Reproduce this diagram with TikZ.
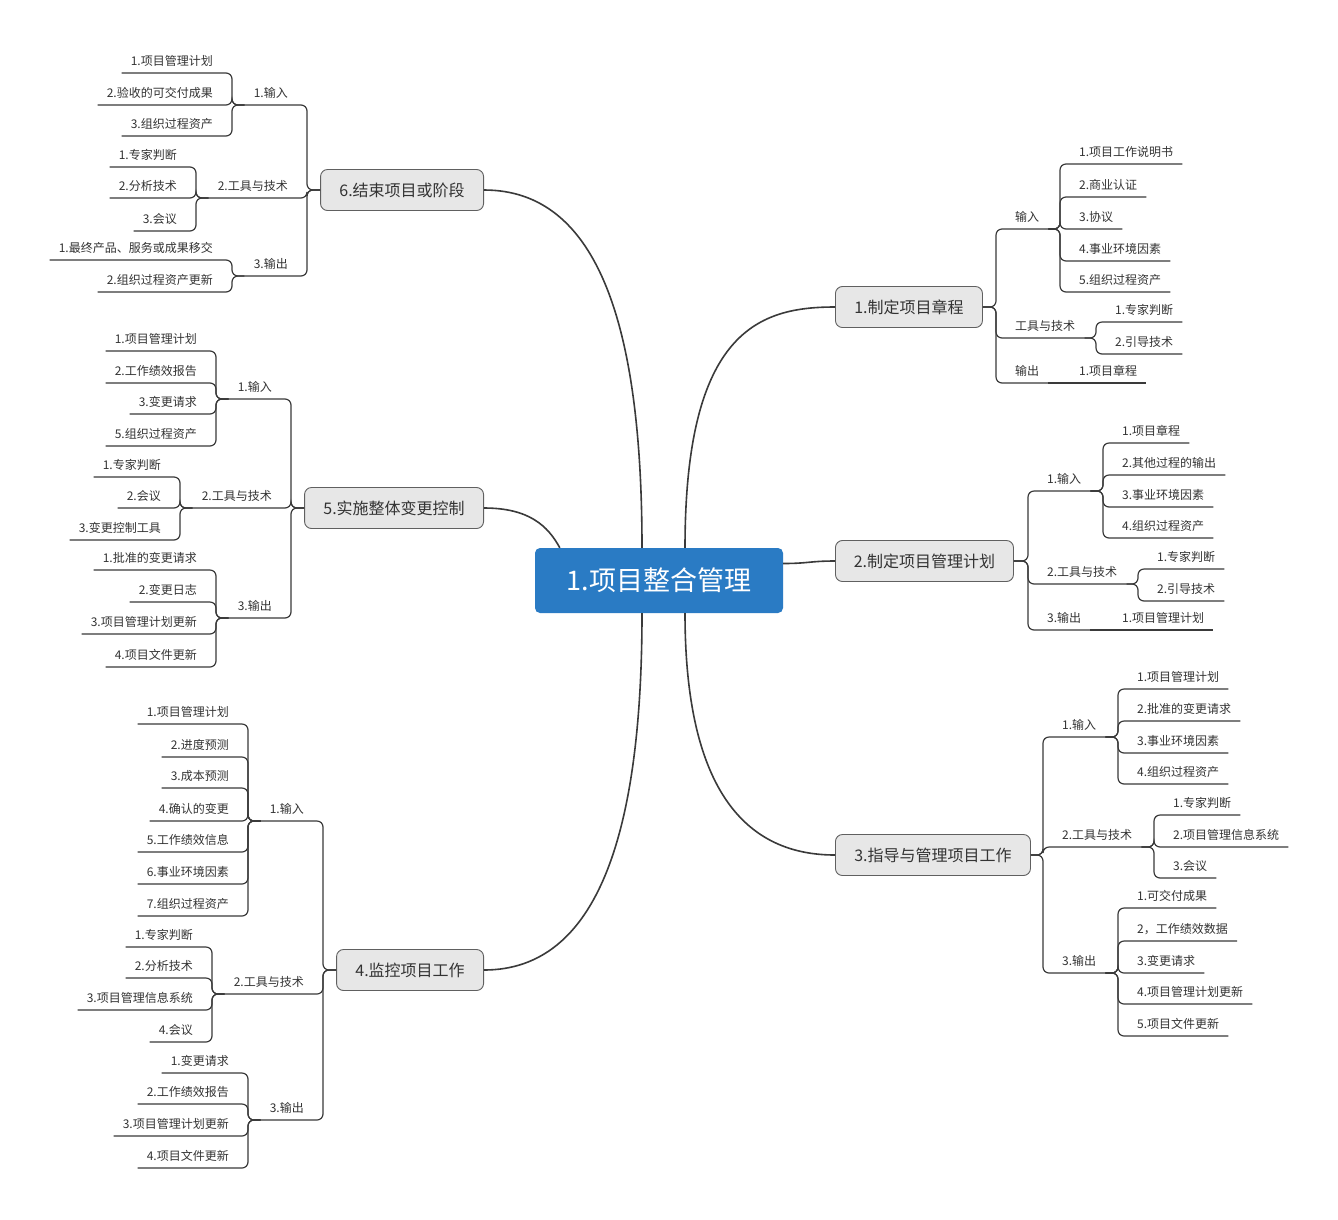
\documentclass[tikz,border=0pt]{standalone}
\usepackage{fontspec}
\newfontfamily\cjk{Noto Sans CJK SC}
\usepackage{tikz}
\usetikzlibrary{positioning}
\usepackage{xcolor}
\definecolor{linegray}{RGB}{58,58,58}
\definecolor{textgray}{RGB}{51,51,51}
\definecolor{boxgray}{RGB}{231,231,231}
\definecolor{boxline}{RGB}{96,96,96}
\definecolor{centerblue}{RGB}{42,123,196}

\begin{document}
\begin{tikzpicture}[x=1pt, y=-1pt,
  topic/.style={draw=boxline, fill=boxgray, rounded corners=7pt, line width=0.9pt,
    font=\cjk\fontsize{16}{18}\selectfont, text=textgray,
    minimum height=41pt, inner xsep=4pt},
  leaf/.style={inner xsep=9pt, inner ysep=6.5pt,
    font=\cjk\fontsize{12}{14}\selectfont, text=textgray},
  leafr/.style={leaf, anchor=south west, xshift=10pt},
  leafl/.style={leaf, anchor=south east, xshift=-10pt},
  link/.style={draw=linegray, line width=1.2pt, rounded corners=6pt},
  curve/.style={draw=linegray, line width=1.6pt}]

  \fill[white] (0,0) rectangle (1338,1219);
  \useasboundingbox (0,0) rectangle (1338,1219);

  % central topic
  \node[fill=centerblue, rounded corners=5pt, minimum width=248pt, minimum height=65pt,
    text=white, font=\cjk\fontsize{27}{30}\selectfont] (c) at (659,580.5) {1.项目整合管理};

  % main topics
  \node[topic, anchor=west, minimum width=147pt] (b1) at (835,307) {1.制定项目章程};
  \node[topic, anchor=west, minimum width=178pt] (b2) at (835,561) {2.制定项目管理计划};
  \node[topic, anchor=west, minimum width=195pt] (b3) at (835,855) {3.指导与管理项目工作};
  \node[topic, anchor=east, minimum width=147pt] (b4) at (484,970) {4.监控项目工作};
  \node[topic, anchor=east, minimum width=179pt] (b5) at (484,508) {5.实施整体变更控制};
  \node[topic, anchor=east, minimum width=163pt] (b6) at (484,190) {6.结束项目或阶段};

  \draw[curve] ([xshift=26pt]c.north) .. controls +(0,-218) and +(-75,0) .. (b1.west);
  \draw[curve] ([yshift=17pt]c.east) .. controls +(25,0) and +(-25,0) .. (b2.west);
  \draw[curve] ([xshift=26pt]c.south) .. controls +(0,190) and +(-80,0) .. (b3.west);
  \draw[curve] ([xshift=-17pt]c.south) .. controls +(0,217) and +(115,0) .. (b4.east);
  \draw[curve] ([xshift=25pt]c.north west) .. controls +(-12,-22) and +(45,0) .. (b5.east);
  \draw[curve] ([xshift=-17pt]c.north) .. controls +(0,-220) and +(115,0) .. (b6.east);

  % 1.制定项目章程
  \foreach \y/\lbl/\nm in {229/输入/in, 338/工具与技术/tt, 383/输出/out} {
    \node[leafr] (b1\nm) at (996,\y) {\lbl};
    \draw[link] (b1.east) -| ([xshift=-10pt]b1\nm.south west) -- (b1\nm.south east);
  }
  \foreach \y/\lbl [count=\i] in {164/1.项目工作说明书, 197/2.商业认证, 229/3.协议,
                                   261/4.事业环境因素, 292/5.组织过程资产} {
    \node[leafr] (b1in\i) at (1060,\y) {\lbl};
    \draw[link] (b1in.south east) -| ([xshift=-10pt]b1in\i.south west) -- (b1in\i.south east);
  }
  \foreach \y/\lbl [count=\i] in {322/1.专家判断, 354/2.引导技术} {
    \node[leafr] (b1tt\i) at (1096,\y) {\lbl};
    \draw[link] (b1tt.south east) -| ([xshift=-10pt]b1tt\i.south west) -- (b1tt\i.south east);
  }
  \node[leafr] (b1out1) at (1060,383) {1.项目章程};
  \draw[link] (b1out.south east) -- (b1out1.south east);

  % 2.制定项目管理计划
  \foreach \y/\lbl/\nm in {491/1.输入/in, 584/2.工具与技术/tt, 630/3.输出/out} {
    \node[leafr] (b2\nm) at (1028,\y) {\lbl};
    \draw[link] (b2.east) -| ([xshift=-10pt]b2\nm.south west) -- (b2\nm.south east);
  }
  \foreach \y/\lbl [count=\i] in {443/1.项目章程, 475/2.其他过程的输出,
                                   507/3.事业环境因素, 538/4.组织过程资产} {
    \node[leafr] (b2in\i) at (1103,\y) {\lbl};
    \draw[link] (b2in.south east) -| ([xshift=-10pt]b2in\i.south west) -- (b2in\i.south east);
  }
  \foreach \y/\lbl [count=\i] in {569/1.专家判断, 601/2.引导技术} {
    \node[leafr] (b2tt\i) at (1138,\y) {\lbl};
    \draw[link] (b2tt.south east) -| ([xshift=-10pt]b2tt\i.south west) -- (b2tt\i.south east);
  }
  \node[leafr] (b2out1) at (1103,630) {1.项目管理计划};
  \draw[link] (b2out.south east) -- (b2out1.south east);

  % 3.指导与管理项目工作
  \foreach \y/\lbl/\nm in {737/1.输入/in, 847/2.工具与技术/tt, 973/3.输出/out} {
    \node[leafr] (b3\nm) at (1043,\y) {\lbl};
    \draw[link] (b3.east) -| ([xshift=-10pt]b3\nm.south west) -- (b3\nm.south east);
  }
  \foreach \y/\lbl [count=\i] in {689/1.项目管理计划, 721/2.批准的变更请求,
                                   753/3.事业环境因素, 784/4.组织过程资产} {
    \node[leafr] (b3in\i) at (1118,\y) {\lbl};
    \draw[link] (b3in.south east) -| ([xshift=-10pt]b3in\i.south west) -- (b3in\i.south east);
  }
  \foreach \y/\lbl [count=\i] in {815/1.专家判断, 847/2.项目管理信息系统, 878/3.会议} {
    \node[leafr] (b3tt\i) at (1154,\y) {\lbl};
    \draw[link] (b3tt.south east) -| ([xshift=-10pt]b3tt\i.south west) -- (b3tt\i.south east);
  }
  \foreach \y/\lbl [count=\i] in {908/1.可交付成果, 941/2，工作绩效数据, 973/3.变更请求,
                                   1004/4.项目管理计划更新, 1036/5.项目文件更新} {
    \node[leafr] (b3out\i) at (1118,\y) {\lbl};
    \draw[link] (b3out.south east) -| ([xshift=-10pt]b3out\i.south west) -- (b3out\i.south east);
  }

  % 4.监控项目工作
  \foreach \y/\lbl/\nm in {821/1.输入/in, 994/2.工具与技术/tt, 1120/3.输出/out} {
    \node[leafl] (b4\nm) at (323,\y) {\lbl};
    \draw[link] (b4.west) -| ([xshift=10pt]b4\nm.south east) -- (b4\nm.south west);
  }
  \foreach \y/\lbl [count=\i] in {724/1.项目管理计划, 757/2.进度预测, 788/3.成本预测,
                                   821/4.确认的变更, 852/5.工作绩效信息,
                                   884/6.事业环境因素, 916/7.组织过程资产} {
    \node[leafl] (b4in\i) at (248,\y) {\lbl};
    \draw[link] (b4in.south west) -| ([xshift=10pt]b4in\i.south east) -- (b4in\i.south west);
  }
  \foreach \y/\lbl [count=\i] in {947/1.专家判断, 978/2.分析技术,
                                   1010/3.项目管理信息系统, 1042/4.会议} {
    \node[leafl] (b4tt\i) at (212,\y) {\lbl};
    \draw[link] (b4tt.south west) -| ([xshift=10pt]b4tt\i.south east) -- (b4tt\i.south west);
  }
  \foreach \y/\lbl [count=\i] in {1073/1.变更请求, 1104/2.工作绩效报告,
                                   1136/3.项目管理计划更新, 1168/4.项目文件更新} {
    \node[leafl] (b4out\i) at (248,\y) {\lbl};
    \draw[link] (b4out.south west) -| ([xshift=10pt]b4out\i.south east) -- (b4out\i.south west);
  }

  % 5.实施整体变更控制
  \foreach \y/\lbl/\nm in {399/1.输入/in, 508/2.工具与技术/tt, 618/3.输出/out} {
    \node[leafl] (b5\nm) at (291,\y) {\lbl};
    \draw[link] (b5.west) -| ([xshift=10pt]b5\nm.south east) -- (b5\nm.south west);
  }
  \foreach \y/\lbl [count=\i] in {351/1.项目管理计划, 383/2.工作绩效报告,
                                   414/3.变更请求, 446/5.组织过程资产} {
    \node[leafl] (b5in\i) at (216,\y) {\lbl};
    \draw[link] (b5in.south west) -| ([xshift=10pt]b5in\i.south east) -- (b5in\i.south west);
  }
  \foreach \y/\lbl [count=\i] in {477/1.专家判断, 508/2.会议, 540/3.变更控制工具} {
    \node[leafl] (b5tt\i) at (180,\y) {\lbl};
    \draw[link] (b5tt.south west) -| ([xshift=10pt]b5tt\i.south east) -- (b5tt\i.south west);
  }
  \foreach \y/\lbl [count=\i] in {570/1.批准的变更请求, 602/2.变更日志,
                                   634/3.项目管理计划更新, 667/4.项目文件更新} {
    \node[leafl] (b5out\i) at (216,\y) {\lbl};
    \draw[link] (b5out.south west) -| ([xshift=10pt]b5out\i.south east) -- (b5out\i.south west);
  }

  % 6.结束项目或阶段
  \foreach \y/\lbl/\nm in {105/1.输入/in, 198/2.工具与技术/tt, 276/3.输出/out} {
    \node[leafl] (b6\nm) at (307,\y) {\lbl};
    \draw[link] (b6.west) -| ([xshift=10pt]b6\nm.south east) -- (b6\nm.south west);
  }
  \foreach \y/\lbl [count=\i] in {73/1.项目管理计划, 105/2.验收的可交付成果, 136/3.组织过程资产} {
    \node[leafl] (b6in\i) at (232,\y) {\lbl};
    \draw[link] (b6in.south west) -| ([xshift=10pt]b6in\i.south east) -- (b6in\i.south west);
  }
  \foreach \y/\lbl [count=\i] in {167/1.专家判断, 198/2.分析技术, 231/3.会议} {
    \node[leafl] (b6tt\i) at (196,\y) {\lbl};
    \draw[link] (b6tt.south west) -| ([xshift=10pt]b6tt\i.south east) -- (b6tt\i.south west);
  }
  \foreach \y/\lbl [count=\i] in {260/1.最终产品、服务或成果移交, 292/2.组织过程资产更新} {
    \node[leafl] (b6out\i) at (232,\y) {\lbl};
    \draw[link] (b6out.south west) -| ([xshift=10pt]b6out\i.south east) -- (b6out\i.south west);
  }

\end{tikzpicture}
\end{document}
